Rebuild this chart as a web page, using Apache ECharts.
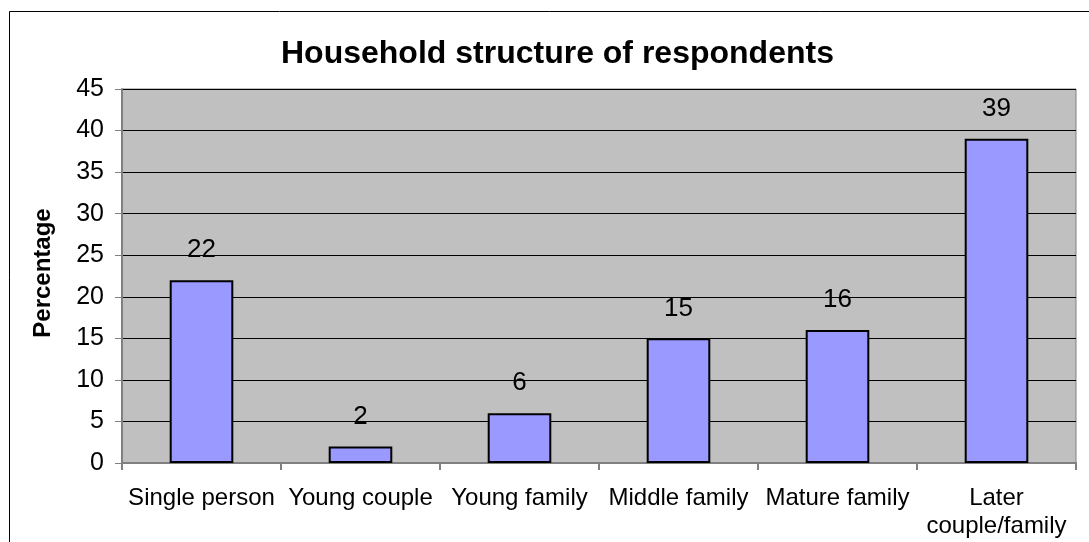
<!DOCTYPE html>
<html>
<head>
<meta charset="utf-8">
<script src="https://cdn.jsdelivr.net/npm/echarts@6/dist/echarts.min.js"></script>
<style>
  html, body { margin: 0; padding: 0; background: #fff; }
  #chart { width: 1089px; height: 542px; }
</style>
</head>
<body>
<div id="chart"></div>
<script>
// household types and share of respondents (%)
const categories = ["Single person", "Young couple", "Young family", "Middle family", "Mature family", "Later\ncouple/family"];
const percentages = [22, 2, 6, 15, 16, 39];

const mychart = echarts.init(document.getElementById("chart"));
mychart.setOption({
  animation: false,
  textStyle: { fontFamily: "Liberation Sans, Arial, sans-serif" },
  title: {
    text: "Household structure of respondents",
    left: 276,
    top: 33,
    textStyle: { fontSize: 32, fontWeight: "bold", color: "#000" }
  },
  graphic: [
    {
      type: "rect",
      shape: { x: 9.5, y: 11.5, width: 1200, height: 700 },
      style: { fill: "none", stroke: "#000", lineWidth: 1 },
      silent: true
    }
  ],
  grid: {
    left: 122,
    right: 13,
    top: 89,
    bottom: 79,
    show: true,
    backgroundColor: "#c0c0c0",
    borderColor: "#808080",
    borderWidth: 1
  },
  xAxis: {
    type: "category",
    data: categories,
    axisLine: { lineStyle: { color: "#808080", width: 2 } },
    axisTick: { show: true, length: 7, lineStyle: { color: "#808080", width: 2 } },
    axisLabel: { color: "#000", fontSize: 24, margin: 21, lineHeight: 28, interval: 0 }
  },
  yAxis: {
    type: "value",
    min: 0,
    max: 45,
    interval: 5,
    name: "Percentage",
    nameLocation: "middle",
    nameGap: 67,
    nameTextStyle: { fontSize: 24, fontWeight: "bold", color: "#000", padding: [0, 0, 0, 6] },
    axisLine: { show: true, lineStyle: { color: "#808080", width: 2 } },
    axisTick: { show: true, length: 7, lineStyle: { color: "#808080", width: 1 } },
    axisLabel: { color: "#000", fontSize: 25, margin: 18 },
    splitLine: { show: true, lineStyle: { color: "#000", width: 1 } }
  },
  series: [
    {
      type: "bar",
      data: percentages,
      barWidth: "40%",
      itemStyle: { color: "#9999ff", borderColor: "#000", borderWidth: 2 },
      label: { show: true, position: "top", distance: 17, fontSize: 26, color: "#000" }
    }
  ]
});
</script>
</body>
</html>
